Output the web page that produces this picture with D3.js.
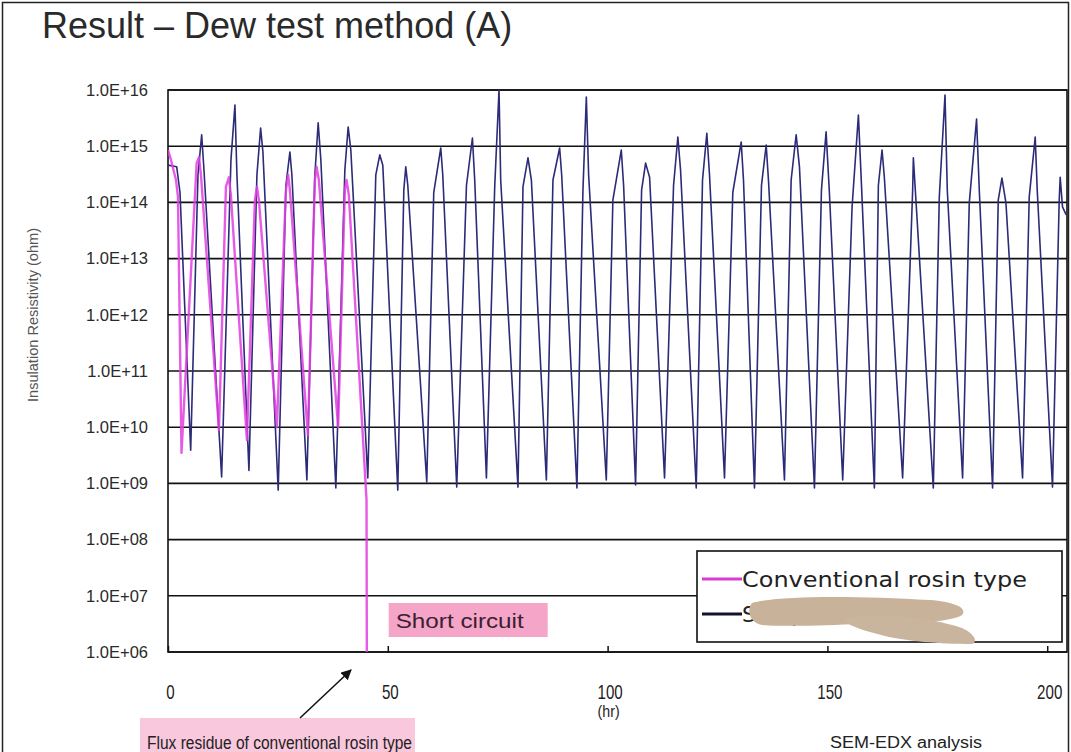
<!DOCTYPE html>
<html><head><meta charset="utf-8">
<script src="https://cdn.jsdelivr.net/npm/d3@7/dist/d3.min.js"></script>
<style>
html,body{margin:0;padding:0;background:#fff;}
svg{display:block;}
</style></head>
<body>
<svg id="chart" width="1071" height="752"></svg>
<script>
// ---------------- DATA ----------------
const chartTitle = "Result \u2013 Dew test method (A)";
const yAxisTitle = "Insulation Resistivity (ohm)";
const xUnit = "(hr)";
const xTicks = [0, 50, 100, 150, 200];
const yTicks = [1e6, 1e7, 1e8, 1e9, 1e10, 1e11, 1e12, 1e13, 1e14, 1e15, 1e16];
const seriesNames = ["Conventional rosin type", "Sample B"];

// Conventional rosin type (magenta)
const rosinHours = [0, 0.68, 1.82, 2.27, 3.07, 6.52, 7.05, 7.5, 11.59, 13.18, 13.86, 14.32,
  17.95, 19.77, 20.23, 20.68, 24.77, 26.82, 27.34, 27.73, 31.82, 33.41, 33.8, 34.32,
  38.7, 40.23, 40.61, 41.14, 45.16, 45.23];
const rosinOhm = [8.55e14, 5.7e14, 2.5e14, 1.25e14, 3.5e9, 5.0e14, 6.4e14, 3.1e14, 8.9e9, 1.9e14, 2.8e14, 1.3e14,
  5.9e9, 1.1e14, 1.9e14, 1.1e14, 1.0e10, 1.65e14, 3.1e14, 1.65e14, 7.3e9, 2.5e14, 4.3e14, 2.5e14,
  1.0e10, 1.65e14, 2.5e14, 1.35e14, 5.1e8, 1.0e6];

// Second flux (navy)
const fluxBHours = [0, 1.98, 2.73, 5.16, 6.82, 7.66, 8.18, 12.2, 14.32, 15.23, 15.68, 18.41,
  20.23, 21.07, 21.59, 25.07, 26.82, 27.73, 28.18, 31.59, 33.41, 34.16, 34.77, 38.18,
  40.23, 40.98, 41.59, 45.45, 47.27, 48.18, 48.86, 52.27, 53.64, 54.09, 54.55, 58.86,
  60.45, 62.05, 62.5, 65.68, 67.89, 69.25, 69.77, 72.43, 74.32, 75.3, 75.68, 79.61,
  80.75, 81.89, 82.66, 86.07, 87.57, 89.09, 89.55, 93.02, 94.39, 95.16, 95.68, 99.7,
  101.2, 103.11, 103.64, 106.36, 107.73, 108.64, 109.55, 112.95, 115, 115.98, 116.59, 120.16,
  121.59, 122.57, 123.18, 126.59, 128.48, 130.39, 130.91, 133.41, 135, 136.07, 136.59, 140.23,
  141.75, 142.89, 143.64, 147.05, 148.64, 149.7, 150.45, 153.48, 155.61, 157.05, 157.73, 160.68,
  161.59, 162.43, 162.95, 167.11, 169.39, 169.55, 170, 174.09, 175.45, 176.75, 177.27, 180.75,
  182.27, 183.93, 184.55, 187.57, 188.86, 189.7, 190.61, 194.39, 195.91, 197.27, 197.73, 201.2,
  202.73, 202.95, 203.48, 204.32];
const fluxBOhm = [4.6e14, 4.3e14, 1.5e14, 3.9e9, 3.1e14, 1.6e15, 3.8e14, 1.3e9, 5.7e14, 5.4e15, 3.1e14, 1.7e9,
  3.1e14, 2.1e15, 7.9e14, 7.6e8, 2.0e14, 7.9e14, 3.1e14, 1.15e9, 3.1e14, 2.6e15, 5.7e14, 8.3e8,
  3.8e14, 2.2e15, 8.55e14, 1.25e9, 3.1e14, 7.0e14, 4.6e14, 7.6e8, 1.65e14, 4.3e14, 2.0e14, 1.06e9,
  1.5e14, 9.3e14, 3.1e14, 8.6e8, 2.0e14, 1.4e15, 2.5e14, 1.25e9, 1.9e14, 1.0e16, 2.5e14, 8.6e8,
  1.9e14, 6.2e14, 2.5e14, 1.15e9, 2.5e14, 9.3e14, 3.1e14, 8.3e8, 1.65e14, 7.5e15, 3.1e14, 1.15e9,
  1.1e14, 8.55e14, 2.0e14, 9.4e8, 1.65e14, 5.0e14, 2.8e14, 1.25e9, 2.0e14, 1.46e15, 3.8e14, 8.3e8,
  2.5e14, 1.7e15, 3.1e14, 1.25e9, 1.5e14, 1.19e15, 2.5e14, 8.3e8, 2.0e14, 1.05e15, 2.5e14, 1.15e9,
  2.5e14, 1.6e15, 4.3e14, 8.3e8, 1.65e14, 1.8e15, 1.5e14, 1.15e9, 8.3e13, 3.6e15, 2.2e14, 8.3e8,
  2.0e14, 8.55e14, 2.8e14, 1.25e9, 1.65e14, 6.2e14, 1.65e14, 8.3e8, 1.25e14, 8.15e15, 1.65e14, 1.25e9,
  9.8e13, 3.05e15, 1.65e14, 8.3e8, 1.1e14, 2.7e14, 9.8e13, 1.25e9, 1.25e14, 1.46e15, 1.65e14, 8.6e8,
  1.1e14, 2.8e14, 8.3e13, 6.0e13];

const annShort = "Short circuit";
const annShortHour = 45.2;
const annFlux = "Flux residue of conventional rosin type";
const annSem = "SEM-EDX analysis";

// ---------------- LAYOUT ----------------
const svg = d3.select("#chart");
const plot = {left: 168, top: 90, right: 1067, bottom: 652};
const x = d3.scaleLinear().domain([0, 204.5]).range([plot.left, plot.right]);
const y = d3.scaleLog().domain([1e6, 1e16]).range([plot.bottom, plot.top]);
const sans = "'Liberation Sans', Arial, sans-serif";

// outer frame
svg.append("path").attr("d", "M2.5,760 V2.5 H1068.5 V760")
  .attr("fill", "none").attr("stroke", "#222").attr("stroke-width", 1.5);

// title
svg.append("text").attr("x", 42).attr("y", 38)
  .attr("font-family", sans).attr("font-size", 36).attr("fill", "#2a2a2a")
  .text(chartTitle);

// gridlines
svg.append("g").selectAll("line").data(yTicks).join("line")
  .attr("x1", plot.left).attr("x2", plot.right)
  .attr("y1", d => y(d)).attr("y2", d => y(d))
  .attr("stroke", "#111").attr("stroke-width", 1.6);

// y axis labels
const yAxis = d3.axisLeft(y).tickValues(yTicks).tickSize(0).tickPadding(20)
  .tickFormat(d => "1.0E+" + String(Math.round(Math.log10(d))).padStart(2, "0"));
const gy = svg.append("g").attr("transform", `translate(${plot.left},0)`).call(yAxis);
gy.select(".domain").remove();
gy.selectAll("text").attr("font-family", sans).attr("font-size", 16.5).attr("fill", "#2a2a2a");

// plot border
svg.append("rect").attr("x", plot.left).attr("y", plot.top)
  .attr("width", plot.right - plot.left).attr("height", plot.bottom - plot.top)
  .attr("fill", "none").attr("stroke", "#111").attr("stroke-width", 1.6);

// x axis
const xAxis = d3.axisBottom(x).tickValues(xTicks).tickSizeInner(-6).tickSizeOuter(0).tickPadding(32);
const gx = svg.append("g").attr("transform", `translate(0,${plot.bottom})`).call(xAxis);
gx.select(".domain").remove();
gx.selectAll("line").attr("stroke", "#111").attr("stroke-width", 1.5);
gx.selectAll("text").attr("font-family", sans).attr("font-size", 21).attr("fill", "#222")
  .attr("dx", 2)
  .each(function(d){ const n = String(d).length; d3.select(this).attr("textLength", n * 8.4).attr("lengthAdjust", "spacingAndGlyphs"); });

svg.append("text").attr("x", x(100) + 1).attr("y", 717).attr("text-anchor", "middle")
  .attr("font-family", sans).attr("font-size", 16).attr("fill", "#222")
  .attr("textLength", 22).attr("lengthAdjust", "spacingAndGlyphs").text(xUnit);

// y axis title
svg.append("text").attr("transform", "translate(38,315) rotate(-90)")
  .attr("text-anchor", "middle").attr("font-family", sans).attr("font-size", 15).attr("fill", "#555")
  .attr("textLength", 174).attr("lengthAdjust", "spacingAndGlyphs")
  .text(yAxisTitle);

// clip
svg.append("clipPath").attr("id", "clip").append("rect")
  .attr("x", plot.left).attr("y", plot.top - 2)
  .attr("width", plot.right - plot.left).attr("height", plot.bottom - plot.top + 2);

const line = d3.line().x(d => x(d[0])).y(d => y(d[1]));
const navyData = fluxBHours.map((h, i) => [h, fluxBOhm[i]]);
const rosinData = rosinHours.map((h, i) => [h, rosinOhm[i]]);

const lines = svg.append("g").attr("clip-path", "url(#clip)");
lines.append("path").datum(navyData).attr("d", line)
  .attr("fill", "none").attr("stroke", "#2b2b78").attr("stroke-width", 1.6).attr("stroke-linejoin", "round");
lines.append("path").datum(rosinData).attr("d", line)
  .attr("fill", "none").attr("stroke", "#e23ee2").attr("stroke-width", 2.4).attr("stroke-opacity", 0.85).attr("stroke-linejoin", "round");

// Short circuit annotation
const scX = x(annShortHour) + 22;
svg.append("rect").attr("x", scX).attr("y", 603).attr("width", 159).attr("height", 34).attr("fill", "#f4a5c8");
svg.append("text").attr("x", scX + 7).attr("y", 628)
  .attr("font-family", sans).attr("font-size", 20).attr("fill", "#3a2030")
  .attr("textLength", 128).attr("lengthAdjust", "spacingAndGlyphs").text(annShort);

// legend
const lg = svg.append("g");
lg.append("rect").attr("x", 697).attr("y", 551).attr("width", 365).attr("height", 91)
  .attr("fill", "#fff").attr("stroke", "#111").attr("stroke-width", 1.6);
lg.append("line").attr("x1", 702).attr("x2", 742).attr("y1", 579).attr("y2", 579)
  .attr("stroke", "#d83ad8").attr("stroke-width", 3);
lg.append("text").attr("x", 742).attr("y", 587).attr("font-family", "'DejaVu Sans', Verdana, sans-serif")
  .attr("font-size", 22).attr("fill", "#222").attr("textLength", 285).attr("lengthAdjust", "spacingAndGlyphs")
  .text(seriesNames[0]);
lg.append("line").attr("x1", 702).attr("x2", 742).attr("y1", 614).attr("y2", 614)
  .attr("stroke", "#111133").attr("stroke-width", 3);
lg.append("text").attr("x", 742).attr("y", 622).attr("font-family", "'DejaVu Sans', Verdana, sans-serif")
  .attr("font-size", 22).attr("fill", "#222").text(seriesNames[1]);
// scribble-out blob over the second name (as in the reference)
lg.append("path")
  .attr("d", "M752,603 C780,595 860,596 930,600 C955,602 968,608 962,615 C950,623 900,624 860,624 C830,625 790,627 762,625 C750,623 746,610 752,603 Z")
  .attr("fill", "#c8b29a");
lg.append("path")
  .attr("d", "M845,618 C890,612 940,620 962,628 C975,634 978,642 972,644 C940,644 905,641 885,636 C865,631 843,625 845,618 Z")
  .attr("fill", "#c9b49d");

// bottom annotation
svg.append("rect").attr("x", 140).attr("y", 718).attr("width", 275).attr("height", 40).attr("fill", "#f9c8dc");
svg.append("text").attr("x", 147).attr("y", 749).attr("font-family", sans).attr("font-size", 18)
  .attr("fill", "#222").attr("textLength", 265).attr("lengthAdjust", "spacingAndGlyphs").text(annFlux);
svg.append("defs").append("marker").attr("id", "arr").attr("viewBox", "0 0 10 10")
  .attr("refX", 9).attr("refY", 5).attr("markerWidth", 7).attr("markerHeight", 7).attr("orient", "auto")
  .append("path").attr("d", "M0,0 L10,5 L0,10 Z").attr("fill", "#111");
svg.append("line").attr("x1", 300).attr("y1", 718).attr("x2", 351).attr("y2", 670)
  .attr("stroke", "#111").attr("stroke-width", 1.5).attr("marker-end", "url(#arr)");

svg.append("text").attr("x", 830).attr("y", 748).attr("font-family", sans).attr("font-size", 16)
  .attr("fill", "#222").attr("textLength", 152).attr("lengthAdjust", "spacingAndGlyphs").text(annSem);
</script>
</body></html>
